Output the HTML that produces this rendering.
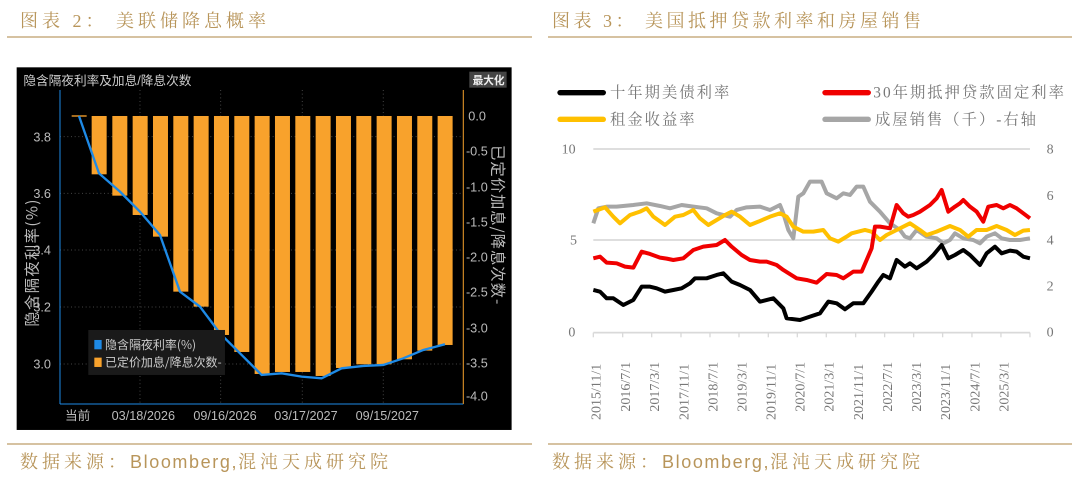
<!DOCTYPE html>
<html><head><meta charset="utf-8"><style>
html,body{margin:0;padding:0;background:#fff;}
svg{display:block;}
.t{font-family:"Liberation Serif","Noto Serif CJK SC",serif;fill:#b8955a;}
</style></head><body>
<svg width="1080" height="483" viewBox="0 0 1080 483" xmlns="http://www.w3.org/2000/svg">
<text class="t" x="20" y="27" font-size="18" letter-spacing="4">图表 2：  美联储降息概率</text>
<text class="t" x="552" y="27" font-size="18" letter-spacing="3.5">图表 3：  美国抵押贷款利率和房屋销售</text>
<line x1="7" y1="37" x2="532" y2="37" stroke="#c9ad82" stroke-width="1.5"/>
<line x1="548" y1="37" x2="1072" y2="37" stroke="#c9ad82" stroke-width="1.5"/>
<line x1="7" y1="444" x2="532" y2="444" stroke="#c9ad82" stroke-width="1.5"/>
<line x1="548" y1="444" x2="1072" y2="444" stroke="#c9ad82" stroke-width="1.5"/>
<text x="20" y="468" font-size="18" fill="#b8955a" font-family="'Liberation Sans','Noto Serif CJK SC',sans-serif" letter-spacing="1.6"><tspan font-family="'Noto Serif CJK SC',serif" letter-spacing="4">数据来源：</tspan>Bloomberg,<tspan font-family="'Noto Serif CJK SC',serif" letter-spacing="4">混沌天成研究院</tspan></text>
<text x="552" y="468" font-size="18" fill="#b8955a" font-family="'Liberation Sans','Noto Serif CJK SC',sans-serif" letter-spacing="1.6"><tspan font-family="'Noto Serif CJK SC',serif" letter-spacing="4">数据来源：</tspan>Bloomberg,<tspan font-family="'Noto Serif CJK SC',serif" letter-spacing="4">混沌天成研究院</tspan></text>

<!-- Left chart -->
<g transform="translate(0,60) scale(0.3333)">
<rect x="50" y="22" width="1485" height="1088" fill="#000"/>
<text x="70" y="75" font-size="38" fill="#ccc" font-family="Liberation Sans,'Noto Sans CJK SC',sans-serif">隐含隔夜利率及加息/降息次数</text>
<rect x="1408" y="35" width="112" height="48" fill="#444"/>
<text x="1418" y="72" font-size="32" fill="#eee" font-family="Liberation Sans,'Noto Sans CJK SC',sans-serif" font-weight="bold">最大化</text>
<g stroke="#444" stroke-width="3" stroke-dasharray="3,8">
<line x1="180" y1="230" x2="1390" y2="230"/><line x1="180" y1="400" x2="1390" y2="400"/><line x1="180" y1="570" x2="1390" y2="570"/><line x1="180" y1="741" x2="1390" y2="741"/><line x1="180" y1="912" x2="1390" y2="912"/>
<line x1="420" y1="90" x2="420" y2="1030"/><line x1="662" y1="90" x2="662" y2="1030"/><line x1="907" y1="90" x2="907" y2="1030"/><line x1="1150" y1="90" x2="1150" y2="1030"/>
</g>
<g fill="#f8a22c">
<rect x="275" y="168" width="45" height="175"/><rect x="337" y="168" width="45" height="239"/><rect x="398" y="168" width="45" height="297"/><rect x="459" y="168" width="45" height="362"/><rect x="520" y="168" width="45" height="527"/><rect x="581" y="168" width="45" height="572"/><rect x="642" y="168" width="45" height="657"/><rect x="703" y="168" width="45" height="708"/><rect x="764" y="168" width="45" height="774"/><rect x="825" y="168" width="45" height="768"/><rect x="886" y="168" width="45" height="768"/><rect x="947" y="168" width="45" height="780"/><rect x="1008" y="168" width="45" height="756"/><rect x="1069" y="168" width="45" height="745"/><rect x="1130" y="168" width="45" height="745"/><rect x="1191" y="168" width="45" height="730"/><rect x="1252" y="168" width="45" height="704"/><rect x="1313" y="168" width="45" height="687"/>
<rect x="215" y="166" width="45" height="4"/>
</g>
<polyline fill="none" stroke="#1e8ae6" stroke-width="7" points="237,168 297,340 360,395 420,455 480,525 540,695 600,740 660,820 720,880 785,945 845,940 905,950 965,955 1025,925 1090,918 1150,915 1210,895 1270,870 1335,853"/>
<line x1="180" y1="90" x2="180" y2="1032" stroke="#1e8ae6" stroke-width="3"/>
<line x1="180" y1="1032" x2="1390" y2="1032" stroke="#1e8ae6" stroke-width="3"/>
<line x1="1390" y1="90" x2="1390" y2="1032" stroke="#f8a22c" stroke-width="3"/>
<g font-family="Liberation Sans Narrow,Liberation Sans,sans-serif" font-size="38" fill="#bbb">
<text x="100" y="244">3.8</text><text x="100" y="414">3.6</text><text x="100" y="584">3.4</text><text x="100" y="755">3.2</text><text x="100" y="926">3.0</text>
<text x="1405" y="182">0.0</text><text x="1398" y="287">-0.5</text><text x="1398" y="394">-1.0</text><text x="1398" y="499">-1.5</text><text x="1398" y="605">-2.0</text><text x="1398" y="710">-2.5</text><text x="1398" y="817">-3.0</text><text x="1398" y="922">-3.5</text><text x="1398" y="1022">-4.0</text>
<text x="195" y="1080" font-family="'Noto Sans CJK SC',sans-serif">当前</text>
<text x="335" y="1080">03/18/2026</text><text x="580" y="1080">09/16/2026</text><text x="823" y="1080">03/17/2027</text><text x="1067" y="1080">09/15/2027</text>
</g>
<text transform="translate(112,800) rotate(-90)" font-size="46" fill="#bbb" font-family="'Noto Sans CJK SC',sans-serif" letter-spacing="4">隐含隔夜利率(%)</text>
<text transform="translate(1478,255) rotate(90)" font-size="46" fill="#bbb" font-family="'Noto Sans CJK SC',sans-serif" letter-spacing="3">已定价加息/降息次数-</text>
<rect x="265" y="810" width="410" height="135" fill="#1a1a1a"/>
<rect x="283" y="840" width="22" height="28" fill="#1e8ae6"/><rect x="283" y="893" width="22" height="28" fill="#f8a22c"/>
<text x="315" y="867" font-size="36" fill="#ccc" font-family="'Noto Sans CJK SC',sans-serif">隐含隔夜利率(%)</text>
<text x="315" y="920" font-size="36" fill="#ccc" font-family="'Noto Sans CJK SC',sans-serif">已定价加息/降息次数-</text>
</g>

<!-- Right chart -->
<g transform="translate(550,70) scale(0.3333)">
<line x1="130" y1="237" x2="1440" y2="237" stroke="#d9d9d9" stroke-width="5"/>
<line x1="130" y1="510" x2="1440" y2="510" stroke="#d9d9d9" stroke-width="5"/>
<line x1="130" y1="788" x2="1440" y2="788" stroke="#d9d9d9" stroke-width="5"/>
<g stroke="#d9d9d9" stroke-width="4">
<line x1="130" y1="788" x2="130" y2="802"/><line x1="218" y1="788" x2="218" y2="802"/><line x1="305" y1="788" x2="305" y2="802"/><line x1="393" y1="788" x2="393" y2="802"/><line x1="480" y1="788" x2="480" y2="802"/><line x1="567" y1="788" x2="567" y2="802"/><line x1="655" y1="788" x2="655" y2="802"/><line x1="742" y1="788" x2="742" y2="802"/><line x1="829" y1="788" x2="829" y2="802"/><line x1="917" y1="788" x2="917" y2="802"/><line x1="1004" y1="788" x2="1004" y2="802"/><line x1="1091" y1="788" x2="1091" y2="802"/><line x1="1178" y1="788" x2="1178" y2="802"/><line x1="1266" y1="788" x2="1266" y2="802"/><line x1="1353" y1="788" x2="1353" y2="802"/><line x1="1440" y1="788" x2="1440" y2="802"/>
</g>
<g font-family="Liberation Serif,serif" font-size="42" fill="#777">
<text x="35" y="250">10</text><text x="60" y="524">5</text><text x="55" y="800">0</text>
<text x="1490" y="250">8</text><text x="1490" y="390">6</text><text x="1490" y="524">4</text><text x="1490" y="662">2</text><text x="1490" y="800">0</text>
</g>
<g font-family="Liberation Serif,serif" font-size="42" fill="#777">
<text transform="translate(152,1050) rotate(-90)">2015/11/1</text>
<text transform="translate(240,1025) rotate(-90)">2016/7/1</text>
<text transform="translate(327,1025) rotate(-90)">2017/3/1</text>
<text transform="translate(415,1050) rotate(-90)">2017/11/1</text>
<text transform="translate(502,1025) rotate(-90)">2018/7/1</text>
<text transform="translate(589,1025) rotate(-90)">2019/3/1</text>
<text transform="translate(677,1050) rotate(-90)">2019/11/1</text>
<text transform="translate(764,1025) rotate(-90)">2020/7/1</text>
<text transform="translate(851,1025) rotate(-90)">2021/3/1</text>
<text transform="translate(939,1050) rotate(-90)">2021/11/1</text>
<text transform="translate(1026,1025) rotate(-90)">2022/7/1</text>
<text transform="translate(1113,1025) rotate(-90)">2023/3/1</text>
<text transform="translate(1200,1050) rotate(-90)">2023/11/1</text>
<text transform="translate(1288,1025) rotate(-90)">2024/7/1</text>
<text transform="translate(1375,1025) rotate(-90)">2025/3/1</text>
</g>
<g fill="none" stroke-width="12" stroke-linejoin="round">
<polyline stroke="#a6a6a6" points="130,460 145,415 170,410 200,410 250,405 290,400 330,408 360,415 395,405 430,410 470,415 500,430 540,440 560,420 590,412 630,410 660,420 690,405 700,430 715,480 730,505 745,380 760,370 780,335 800,335 815,335 830,370 860,385 880,370 900,375 920,350 940,350 960,395 990,425 1020,460 1050,480 1065,500 1080,505 1100,480 1130,500 1160,505 1180,520 1200,510 1215,490 1240,505 1270,510 1290,520 1310,500 1335,490 1355,505 1380,510 1410,510 1440,505"/>
<polyline stroke="#ffc000" points="130,425 165,412 190,440 210,460 240,435 270,425 290,415 310,440 345,465 375,440 400,435 430,420 450,445 475,465 500,450 525,435 545,425 570,440 600,465 625,455 660,440 690,430 710,440 730,470 760,485 790,485 820,480 840,505 865,515 890,500 905,490 945,480 965,485 990,510 1010,495 1040,480 1080,460 1110,480 1130,495 1160,485 1200,468 1230,480 1255,500 1280,480 1310,480 1340,468 1370,480 1395,495 1420,482 1440,480"/>
<polyline stroke="#f00000" points="130,565 150,560 170,578 200,580 225,590 250,593 275,545 300,552 330,563 350,566 370,570 400,565 430,540 460,530 500,525 525,510 545,530 575,555 600,570 630,575 650,575 680,585 700,600 740,625 770,630 800,638 830,612 860,615 880,625 910,605 935,605 965,535 975,470 990,470 1020,475 1040,405 1060,430 1075,440 1090,435 1110,425 1140,405 1160,385 1175,360 1195,425 1215,410 1230,400 1240,390 1260,410 1280,425 1300,455 1315,410 1340,405 1360,415 1380,405 1400,415 1420,430 1440,445"/>
<polyline stroke="#000" points="130,660 150,665 170,685 190,685 220,705 250,690 275,650 300,650 320,655 345,665 370,660 395,655 420,640 435,625 470,625 500,615 520,610 545,635 570,645 600,660 630,695 670,685 700,715 710,745 750,750 780,740 810,730 835,695 860,700 885,718 910,700 940,700 965,665 985,635 1000,615 1020,625 1040,570 1065,590 1080,580 1100,595 1130,575 1150,555 1175,525 1195,565 1215,555 1240,540 1260,555 1290,585 1310,550 1335,530 1355,550 1380,542 1400,545 1420,560 1440,565"/>
</g>
<g stroke-width="16" stroke-linecap="round">
<line x1="30" y1="68" x2="160" y2="68" stroke="#000"/>
<line x1="30" y1="148" x2="160" y2="148" stroke="#ffc000"/>
<line x1="825" y1="68" x2="955" y2="68" stroke="#f00000"/>
<line x1="825" y1="148" x2="955" y2="148" stroke="#a6a6a6"/>
</g>
<g font-family="Liberation Serif,'Noto Serif CJK SC',serif" font-size="46" fill="#777" letter-spacing="6">
<text x="180" y="83">十年期美债利率</text>
<text x="180" y="163">租金收益率</text>
<text x="970" y="83">30年期抵押贷款固定利率</text>
<text x="975" y="163">成屋销售（千）-右轴</text>
</g>
</g>
</svg>
</body></html>
